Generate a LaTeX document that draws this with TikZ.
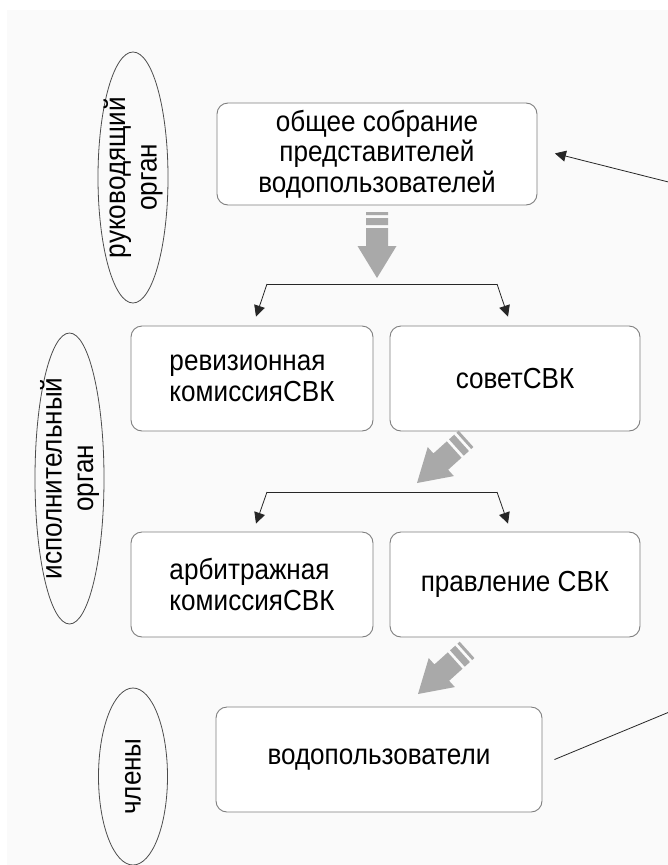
\documentclass[tikz,border=0pt]{standalone}
\usepackage{fontspec}
\setmainfont{Liberation Sans}[FakeStretch=0.9]
\usetikzlibrary{arrows.meta,shapes.geometric}
\definecolor{bgc}{HTML}{FAFAFA}
\definecolor{framec}{HTML}{7F7F7F}
\definecolor{blockc}{HTML}{A9A9A9}

\begin{document}
\begin{tikzpicture}[x=1pt,y=-1pt,>={Triangle[length=11pt,width=11pt]},
  box/.style={draw=framec,fill=white,line width=0.9pt,rounded corners=11pt,inner sep=0pt,align=center,font=\fontsize{29}{30.5}\selectfont},
  oval/.style={draw=black!70,ellipse,line width=0.8pt,inner sep=0pt,rotate=90},
  ovaltext/.style={rotate=90,align=center,font=\fontsize{29}{31.5}\selectfont},
  brk/.style={draw=black!85,line width=0.8pt}]
  \useasboundingbox (0,0) rectangle (668,865);
  \clip (0,0) rectangle (668,865);
  \fill[white] (0,0) rectangle (668,865);
  \fill[bgc] (7,10) rectangle (668,865);

  % organs
  \node[oval,minimum width=251pt,minimum height=70pt] (ruk) at (133,177.5) {};
  \node[ovaltext] (ruk-t) at (ruk) {руководящий\\орган};
  \node[oval,minimum width=291pt,minimum height=69pt] (isp) at (69.5,478.5) {};
  \node[ovaltext] (isp-t) at (isp) {исполнительный\\орган};
  \node[oval,minimum width=177pt,minimum height=69pt] (chl) at (133,776.5) {};
  \node[ovaltext] (chl-t) at (chl) {члены};

  % bodies
  \node[box,minimum width=320pt,minimum height=102pt] (sob) at (377,154) {общее собрание\\представителей\\водопользователей};
  \node[box,minimum width=242pt,minimum height=105pt,align=left] (rev) at (252,378.5) {ревизионная\\комиссияСВК};
  \node[box,minimum width=250pt,minimum height=105pt] (sov) at (515,378.5) {советСВК};
  \node[box,minimum width=242pt,minimum height=105pt,align=left] (arb) at (252,584.5) {арбитражная\\комиссияСВК};
  \node[box,minimum width=250pt,minimum height=105pt] (pra) at (515,584.5) {правление СВК};
  \node[box,minimum width=326pt,minimum height=105pt] (vod) at (379,759.5) {водопользователи};

  % gray block arrows
  \foreach \tx/\ty/\ang in {377/278/0,417/483/-48,418/694/-48}{
    \begin{scope}[shift={(\tx,\ty)},rotate=\ang]
      \fill[blockc] (0,0) -- (-19.5,-32) -- (-11,-32) -- (-11,-50) -- (11,-50) -- (11,-32) -- (19.5,-32) -- cycle;
      \fill[blockc] (-11,-53) rectangle (11,-60) (-11,-63) rectangle (11,-66);
    \end{scope}
  }

  % brackets
  \coordinate (k1) at (267,284);
  \coordinate (k2) at (497,284);
  \draw[brk] (k1) -- (k2);
  \draw[brk,->] (k1) -- ([xshift=4pt,yshift=9pt]rev.north);
  \draw[brk,->] (k2) -- ([xshift=-7pt,yshift=9pt]sov.north);
  \coordinate (k3) at (267,492);
  \coordinate (k4) at (497,492);
  \draw[brk] (k3) -- (k4);
  \draw[brk,->] (k3) -- ([xshift=4pt,yshift=8pt]arb.north);
  \draw[brk,->] (k4) -- ([xshift=-7pt,yshift=8pt]pra.north);

  % feedback
  \coordinate (ext1) at (720,195);
  \coordinate (ext2) at (720,691);
  \draw[brk,->,shorten >=18pt] (ext1) -- ([yshift=5pt]sob.east);
  \draw[brk,shorten <=13pt] ([yshift=-5pt]vod.east) -- (ext2);
\end{tikzpicture}
\end{document}
